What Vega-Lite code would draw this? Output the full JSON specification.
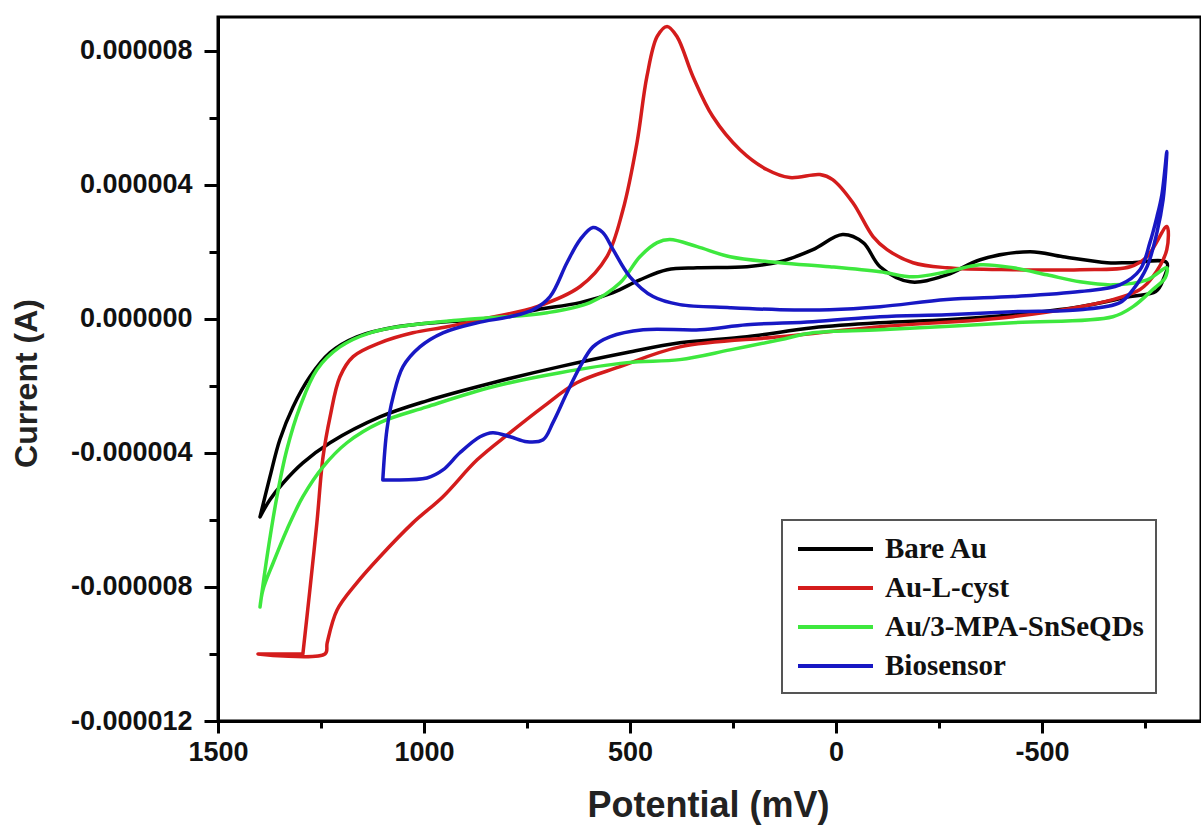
{
  "$schema": "https://vega.github.io/schema/vega-lite/v6.json",
  "width": 983,
  "height": 704,
  "autosize": {"type": "none"},
  "padding": {"left": 218, "top": 17, "right": 0, "bottom": 111},
  "background": "white",
  "config": {
    "view": {"stroke": "black", "strokeWidth": 3},
    "legend": {"strokeWidth": 2}
  },
  "data": {
    "values": [
      {"series": "Bare Au", "i": 1, "potential": 1398, "current": -5.91e-6},
      {"series": "Bare Au", "i": 2, "potential": 1374, "current": -4.72e-6},
      {"series": "Bare Au", "i": 3, "potential": 1350, "current": -3.61e-6},
      {"series": "Bare Au", "i": 4, "potential": 1318, "current": -2.63e-6},
      {"series": "Bare Au", "i": 5, "potential": 1277, "current": -1.73e-6},
      {"series": "Bare Au", "i": 6, "potential": 1228, "current": -1.01e-6},
      {"series": "Bare Au", "i": 7, "potential": 1163, "current": -0.54e-6},
      {"series": "Bare Au", "i": 8, "potential": 1066, "current": -0.24e-6},
      {"series": "Bare Au", "i": 9, "potential": 944, "current": -0.09e-6},
      {"series": "Bare Au", "i": 10, "potential": 864, "current": -0.03e-6},
      {"series": "Bare Au", "i": 11, "potential": 726, "current": 0.27e-6},
      {"series": "Bare Au", "i": 12, "potential": 621, "current": 0.48e-6},
      {"series": "Bare Au", "i": 13, "potential": 541, "current": 0.78e-6},
      {"series": "Bare Au", "i": 14, "potential": 476, "current": 1.16e-6},
      {"series": "Bare Au", "i": 15, "potential": 410, "current": 1.46e-6},
      {"series": "Bare Au", "i": 16, "potential": 337, "current": 1.52e-6},
      {"series": "Bare Au", "i": 17, "potential": 216, "current": 1.55e-6},
      {"series": "Bare Au", "i": 18, "potential": 136, "current": 1.70e-6},
      {"series": "Bare Au", "i": 19, "potential": 56, "current": 2.06e-6},
      {"series": "Bare Au", "i": 20, "potential": -16, "current": 2.51e-6},
      {"series": "Bare Au", "i": 21, "potential": -66, "current": 2.27e-6},
      {"series": "Bare Au", "i": 22, "potential": -107, "current": 1.55e-6},
      {"series": "Bare Au", "i": 23, "potential": -180, "current": 1.10e-6},
      {"series": "Bare Au", "i": 24, "potential": -269, "current": 1.31e-6},
      {"series": "Bare Au", "i": 25, "potential": -350, "current": 1.76e-6},
      {"series": "Bare Au", "i": 26, "potential": -471, "current": 2.00e-6},
      {"series": "Bare Au", "i": 27, "potential": -551, "current": 1.85e-6},
      {"series": "Bare Au", "i": 28, "potential": -658, "current": 1.67e-6},
      {"series": "Bare Au", "i": 29, "potential": -714, "current": 1.67e-6},
      {"series": "Bare Au", "i": 30, "potential": -803, "current": 1.67e-6},
      {"series": "Bare Au", "i": 31, "potential": -794, "current": 1.16e-6},
      {"series": "Bare Au", "i": 32, "potential": -776, "current": 0.81e-6},
      {"series": "Bare Au", "i": 33, "potential": -714, "current": 0.66e-6},
      {"series": "Bare Au", "i": 34, "potential": -592, "current": 0.36e-6},
      {"series": "Bare Au", "i": 35, "potential": -430, "current": 0.12e-6},
      {"series": "Bare Au", "i": 36, "potential": -269, "current": -0.03e-6},
      {"series": "Bare Au", "i": 37, "potential": -107, "current": -0.12e-6},
      {"series": "Bare Au", "i": 38, "potential": 56, "current": -0.27e-6},
      {"series": "Bare Au", "i": 39, "potential": 216, "current": -0.54e-6},
      {"series": "Bare Au", "i": 40, "potential": 379, "current": -0.72e-6},
      {"series": "Bare Au", "i": 41, "potential": 507, "current": -1.01e-6},
      {"series": "Bare Au", "i": 42, "potential": 670, "current": -1.43e-6},
      {"series": "Bare Au", "i": 43, "potential": 833, "current": -1.91e-6},
      {"series": "Bare Au", "i": 44, "potential": 993, "current": -2.45e-6},
      {"series": "Bare Au", "i": 45, "potential": 1107, "current": -2.93e-6},
      {"series": "Bare Au", "i": 46, "potential": 1228, "current": -3.70e-6},
      {"series": "Bare Au", "i": 47, "potential": 1294, "current": -4.30e-6},
      {"series": "Bare Au", "i": 48, "potential": 1342, "current": -4.90e-6},
      {"series": "Bare Au", "i": 49, "potential": 1374, "current": -5.40e-6},
      {"series": "Bare Au", "i": 50, "potential": 1398, "current": -5.91e-6},

      {"series": "Au-L-cyst", "i": 1, "potential": 1294, "current": -10.0e-6},
      {"series": "Au-L-cyst", "i": 2, "potential": 1277, "current": -8.09e-6},
      {"series": "Au-L-cyst", "i": 3, "potential": 1260, "current": -6.09e-6},
      {"series": "Au-L-cyst", "i": 4, "potential": 1245, "current": -4.12e-6},
      {"series": "Au-L-cyst", "i": 5, "potential": 1228, "current": -2.93e-6},
      {"series": "Au-L-cyst", "i": 6, "potential": 1204, "current": -1.73e-6},
      {"series": "Au-L-cyst", "i": 7, "potential": 1172, "current": -1.13e-6},
      {"series": "Au-L-cyst", "i": 8, "potential": 1107, "current": -0.72e-6},
      {"series": "Au-L-cyst", "i": 9, "potential": 1027, "current": -0.42e-6},
      {"series": "Au-L-cyst", "i": 10, "potential": 944, "current": -0.24e-6},
      {"series": "Au-L-cyst", "i": 11, "potential": 864, "current": -0.03e-6},
      {"series": "Au-L-cyst", "i": 12, "potential": 726, "current": 0.36e-6},
      {"series": "Au-L-cyst", "i": 13, "potential": 621, "current": 0.96e-6},
      {"series": "Au-L-cyst", "i": 14, "potential": 556, "current": 1.85e-6},
      {"series": "Au-L-cyst", "i": 15, "potential": 517, "current": 3.25e-6},
      {"series": "Au-L-cyst", "i": 16, "potential": 483, "current": 5.25e-6},
      {"series": "Au-L-cyst", "i": 17, "potential": 459, "current": 7.22e-6},
      {"series": "Au-L-cyst", "i": 18, "potential": 434, "current": 8.42e-6},
      {"series": "Au-L-cyst", "i": 19, "potential": 410, "current": 8.72e-6},
      {"series": "Au-L-cyst", "i": 20, "potential": 386, "current": 8.42e-6},
      {"series": "Au-L-cyst", "i": 21, "potential": 347, "current": 7.22e-6},
      {"series": "Au-L-cyst", "i": 22, "potential": 299, "current": 6.03e-6},
      {"series": "Au-L-cyst", "i": 23, "potential": 233, "current": 5.04e-6},
      {"series": "Au-L-cyst", "i": 24, "potential": 168, "current": 4.45e-6},
      {"series": "Au-L-cyst", "i": 25, "potential": 112, "current": 4.21e-6},
      {"series": "Au-L-cyst", "i": 26, "potential": 39, "current": 4.30e-6},
      {"series": "Au-L-cyst", "i": 27, "potential": 8, "current": 4.15e-6},
      {"series": "Au-L-cyst", "i": 28, "potential": -41, "current": 3.46e-6},
      {"series": "Au-L-cyst", "i": 29, "potential": -90, "current": 2.45e-6},
      {"series": "Au-L-cyst", "i": 30, "potential": -124, "current": 2.06e-6},
      {"series": "Au-L-cyst", "i": 31, "potential": -187, "current": 1.67e-6},
      {"series": "Au-L-cyst", "i": 32, "potential": -269, "current": 1.52e-6},
      {"series": "Au-L-cyst", "i": 33, "potential": -430, "current": 1.46e-6},
      {"series": "Au-L-cyst", "i": 34, "potential": -592, "current": 1.46e-6},
      {"series": "Au-L-cyst", "i": 35, "potential": -714, "current": 1.55e-6},
      {"series": "Au-L-cyst", "i": 36, "potential": -755, "current": 1.85e-6},
      {"series": "Au-L-cyst", "i": 37, "potential": -803, "current": 2.75e-6},
      {"series": "Au-L-cyst", "i": 38, "potential": -803, "current": 2.06e-6},
      {"series": "Au-L-cyst", "i": 39, "potential": -769, "current": 1.25e-6},
      {"series": "Au-L-cyst", "i": 40, "potential": -738, "current": 0.87e-6},
      {"series": "Au-L-cyst", "i": 41, "potential": -672, "current": 0.57e-6},
      {"series": "Au-L-cyst", "i": 42, "potential": -430, "current": 0.06e-6},
      {"series": "Au-L-cyst", "i": 43, "potential": -107, "current": -0.24e-6},
      {"series": "Au-L-cyst", "i": 44, "potential": 136, "current": -0.54e-6},
      {"series": "Au-L-cyst", "i": 45, "potential": 379, "current": -0.84e-6},
      {"series": "Au-L-cyst", "i": 46, "potential": 524, "current": -1.43e-6},
      {"series": "Au-L-cyst", "i": 47, "potential": 629, "current": -1.91e-6},
      {"series": "Au-L-cyst", "i": 48, "potential": 711, "current": -2.63e-6},
      {"series": "Au-L-cyst", "i": 49, "potential": 791, "current": -3.40e-6},
      {"series": "Au-L-cyst", "i": 50, "potential": 871, "current": -4.21e-6},
      {"series": "Au-L-cyst", "i": 51, "potential": 954, "current": -5.31e-6},
      {"series": "Au-L-cyst", "i": 52, "potential": 1027, "current": -6.09e-6},
      {"series": "Au-L-cyst", "i": 53, "potential": 1107, "current": -7.10e-6},
      {"series": "Au-L-cyst", "i": 54, "potential": 1163, "current": -7.88e-6},
      {"series": "Au-L-cyst", "i": 55, "potential": 1211, "current": -8.69e-6},
      {"series": "Au-L-cyst", "i": 56, "potential": 1235, "current": -9.67e-6},
      {"series": "Au-L-cyst", "i": 57, "potential": 1240, "current": -10.0e-6},
      {"series": "Au-L-cyst", "i": 58, "potential": 1403, "current": -10.0e-6},
      {"series": "Au-L-cyst", "i": 59, "potential": 1294, "current": -10.0e-6},

      {"series": "Au/3-MPA-SnSeQDs", "i": 1, "potential": 1398, "current": -8.60e-6},
      {"series": "Au/3-MPA-SnSeQDs", "i": 2, "potential": 1381, "current": -7.10e-6},
      {"series": "Au/3-MPA-SnSeQDs", "i": 3, "potential": 1357, "current": -5.31e-6},
      {"series": "Au/3-MPA-SnSeQDs", "i": 4, "potential": 1333, "current": -3.91e-6},
      {"series": "Au/3-MPA-SnSeQDs", "i": 5, "potential": 1301, "current": -2.63e-6},
      {"series": "Au/3-MPA-SnSeQDs", "i": 6, "potential": 1260, "current": -1.52e-6},
      {"series": "Au/3-MPA-SnSeQDs", "i": 7, "potential": 1204, "current": -0.84e-6},
      {"series": "Au/3-MPA-SnSeQDs", "i": 8, "potential": 1131, "current": -0.42e-6},
      {"series": "Au/3-MPA-SnSeQDs", "i": 9, "potential": 1027, "current": -0.18e-6},
      {"series": "Au/3-MPA-SnSeQDs", "i": 10, "potential": 905, "current": -0.03e-6},
      {"series": "Au/3-MPA-SnSeQDs", "i": 11, "potential": 701, "current": 0.18e-6},
      {"series": "Au/3-MPA-SnSeQDs", "i": 12, "potential": 597, "current": 0.48e-6},
      {"series": "Au/3-MPA-SnSeQDs", "i": 13, "potential": 524, "current": 1.07e-6},
      {"series": "Au/3-MPA-SnSeQDs", "i": 14, "potential": 476, "current": 1.85e-6},
      {"series": "Au/3-MPA-SnSeQDs", "i": 15, "potential": 434, "current": 2.27e-6},
      {"series": "Au/3-MPA-SnSeQDs", "i": 16, "potential": 403, "current": 2.36e-6},
      {"series": "Au/3-MPA-SnSeQDs", "i": 17, "potential": 337, "current": 2.15e-6},
      {"series": "Au/3-MPA-SnSeQDs", "i": 18, "potential": 257, "current": 1.85e-6},
      {"series": "Au/3-MPA-SnSeQDs", "i": 19, "potential": 136, "current": 1.67e-6},
      {"series": "Au/3-MPA-SnSeQDs", "i": 20, "potential": 15, "current": 1.55e-6},
      {"series": "Au/3-MPA-SnSeQDs", "i": 21, "potential": -107, "current": 1.40e-6},
      {"series": "Au/3-MPA-SnSeQDs", "i": 22, "potential": -187, "current": 1.25e-6},
      {"series": "Au/3-MPA-SnSeQDs", "i": 23, "potential": -269, "current": 1.40e-6},
      {"series": "Au/3-MPA-SnSeQDs", "i": 24, "potential": -350, "current": 1.61e-6},
      {"series": "Au/3-MPA-SnSeQDs", "i": 25, "potential": -430, "current": 1.52e-6},
      {"series": "Au/3-MPA-SnSeQDs", "i": 26, "potential": -512, "current": 1.31e-6},
      {"series": "Au/3-MPA-SnSeQDs", "i": 27, "potential": -592, "current": 1.10e-6},
      {"series": "Au/3-MPA-SnSeQDs", "i": 28, "potential": -672, "current": 1.01e-6},
      {"series": "Au/3-MPA-SnSeQDs", "i": 29, "potential": -755, "current": 1.16e-6},
      {"series": "Au/3-MPA-SnSeQDs", "i": 30, "potential": -803, "current": 1.52e-6},
      {"series": "Au/3-MPA-SnSeQDs", "i": 31, "potential": -799, "current": 1.22e-6},
      {"series": "Au/3-MPA-SnSeQDs", "i": 32, "potential": -769, "current": 0.87e-6},
      {"series": "Au/3-MPA-SnSeQDs", "i": 33, "potential": -721, "current": 0.36e-6},
      {"series": "Au/3-MPA-SnSeQDs", "i": 34, "potential": -672, "current": 0.06e-6},
      {"series": "Au/3-MPA-SnSeQDs", "i": 35, "potential": -430, "current": -0.12e-6},
      {"series": "Au/3-MPA-SnSeQDs", "i": 36, "potential": -107, "current": -0.33e-6},
      {"series": "Au/3-MPA-SnSeQDs", "i": 37, "potential": 56, "current": -0.42e-6},
      {"series": "Au/3-MPA-SnSeQDs", "i": 38, "potential": 136, "current": -0.63e-6},
      {"series": "Au/3-MPA-SnSeQDs", "i": 39, "potential": 257, "current": -0.93e-6},
      {"series": "Au/3-MPA-SnSeQDs", "i": 40, "potential": 379, "current": -1.22e-6},
      {"series": "Au/3-MPA-SnSeQDs", "i": 41, "potential": 507, "current": -1.31e-6},
      {"series": "Au/3-MPA-SnSeQDs", "i": 42, "potential": 670, "current": -1.61e-6},
      {"series": "Au/3-MPA-SnSeQDs", "i": 43, "potential": 833, "current": -2.03e-6},
      {"series": "Au/3-MPA-SnSeQDs", "i": 44, "potential": 993, "current": -2.63e-6},
      {"series": "Au/3-MPA-SnSeQDs", "i": 45, "potential": 1107, "current": -3.10e-6},
      {"series": "Au/3-MPA-SnSeQDs", "i": 46, "potential": 1187, "current": -3.70e-6},
      {"series": "Au/3-MPA-SnSeQDs", "i": 47, "potential": 1245, "current": -4.42e-6},
      {"series": "Au/3-MPA-SnSeQDs", "i": 48, "potential": 1294, "current": -5.31e-6},
      {"series": "Au/3-MPA-SnSeQDs", "i": 49, "potential": 1333, "current": -6.30e-6},
      {"series": "Au/3-MPA-SnSeQDs", "i": 50, "potential": 1366, "current": -7.28e-6},
      {"series": "Au/3-MPA-SnSeQDs", "i": 51, "potential": 1391, "current": -8.09e-6},
      {"series": "Au/3-MPA-SnSeQDs", "i": 52, "potential": 1398, "current": -8.60e-6},

      {"series": "Biosensor", "i": 1, "potential": 1100, "current": -4.81e-6},
      {"series": "Biosensor", "i": 2, "potential": 1090, "current": -3.31e-6},
      {"series": "Biosensor", "i": 3, "potential": 1075, "current": -2.33e-6},
      {"series": "Biosensor", "i": 4, "potential": 1051, "current": -1.43e-6},
      {"series": "Biosensor", "i": 5, "potential": 1010, "current": -0.84e-6},
      {"series": "Biosensor", "i": 6, "potential": 954, "current": -0.42e-6},
      {"series": "Biosensor", "i": 7, "potential": 871, "current": -0.12e-6},
      {"series": "Biosensor", "i": 8, "potential": 791, "current": 0.06e-6},
      {"series": "Biosensor", "i": 9, "potential": 735, "current": 0.27e-6},
      {"series": "Biosensor", "i": 10, "potential": 694, "current": 0.66e-6},
      {"series": "Biosensor", "i": 11, "potential": 653, "current": 1.67e-6},
      {"series": "Biosensor", "i": 12, "potential": 621, "current": 2.36e-6},
      {"series": "Biosensor", "i": 13, "potential": 590, "current": 2.72e-6},
      {"series": "Biosensor", "i": 14, "potential": 566, "current": 2.57e-6},
      {"series": "Biosensor", "i": 15, "potential": 541, "current": 2.06e-6},
      {"series": "Biosensor", "i": 16, "potential": 500, "current": 1.25e-6},
      {"series": "Biosensor", "i": 17, "potential": 444, "current": 0.66e-6},
      {"series": "Biosensor", "i": 18, "potential": 379, "current": 0.42e-6},
      {"series": "Biosensor", "i": 19, "potential": 257, "current": 0.33e-6},
      {"series": "Biosensor", "i": 20, "potential": 136, "current": 0.27e-6},
      {"series": "Biosensor", "i": 21, "potential": 15, "current": 0.27e-6},
      {"series": "Biosensor", "i": 22, "potential": -107, "current": 0.36e-6},
      {"series": "Biosensor", "i": 23, "potential": -269, "current": 0.57e-6},
      {"series": "Biosensor", "i": 24, "potential": -430, "current": 0.66e-6},
      {"series": "Biosensor", "i": 25, "potential": -592, "current": 0.81e-6},
      {"series": "Biosensor", "i": 26, "potential": -689, "current": 1.01e-6},
      {"series": "Biosensor", "i": 27, "potential": -738, "current": 1.46e-6},
      {"series": "Biosensor", "i": 28, "potential": -762, "current": 2.27e-6},
      {"series": "Biosensor", "i": 29, "potential": -779, "current": 3.04e-6},
      {"series": "Biosensor", "i": 30, "potential": -791, "current": 3.70e-6},
      {"series": "Biosensor", "i": 31, "potential": -803, "current": 4.99e-6},
      {"series": "Biosensor", "i": 32, "potential": -794, "current": 3.55e-6},
      {"series": "Biosensor", "i": 33, "potential": -779, "current": 2.57e-6},
      {"series": "Biosensor", "i": 34, "potential": -755, "current": 1.55e-6},
      {"series": "Biosensor", "i": 35, "potential": -721, "current": 0.87e-6},
      {"series": "Biosensor", "i": 36, "potential": -689, "current": 0.48e-6},
      {"series": "Biosensor", "i": 37, "potential": -592, "current": 0.27e-6},
      {"series": "Biosensor", "i": 38, "potential": -430, "current": 0.21e-6},
      {"series": "Biosensor", "i": 39, "potential": -269, "current": 0.12e-6},
      {"series": "Biosensor", "i": 40, "potential": -107, "current": 0.06e-6},
      {"series": "Biosensor", "i": 41, "potential": 56, "current": -0.09e-6},
      {"series": "Biosensor", "i": 42, "potential": 216, "current": -0.18e-6},
      {"series": "Biosensor", "i": 43, "potential": 330, "current": -0.33e-6},
      {"series": "Biosensor", "i": 44, "potential": 468, "current": -0.33e-6},
      {"series": "Biosensor", "i": 45, "potential": 549, "current": -0.54e-6},
      {"series": "Biosensor", "i": 46, "potential": 590, "current": -0.84e-6},
      {"series": "Biosensor", "i": 47, "potential": 621, "current": -1.43e-6},
      {"series": "Biosensor", "i": 48, "potential": 653, "current": -2.21e-6},
      {"series": "Biosensor", "i": 49, "potential": 687, "current": -3.10e-6},
      {"series": "Biosensor", "i": 50, "potential": 711, "current": -3.61e-6},
      {"series": "Biosensor", "i": 51, "potential": 750, "current": -3.67e-6},
      {"series": "Biosensor", "i": 52, "potential": 791, "current": -3.52e-6},
      {"series": "Biosensor", "i": 53, "potential": 833, "current": -3.40e-6},
      {"series": "Biosensor", "i": 54, "potential": 864, "current": -3.52e-6},
      {"series": "Biosensor", "i": 55, "potential": 913, "current": -4.00e-6},
      {"series": "Biosensor", "i": 56, "potential": 954, "current": -4.51e-6},
      {"series": "Biosensor", "i": 57, "potential": 993, "current": -4.75e-6},
      {"series": "Biosensor", "i": 58, "potential": 1075, "current": -4.81e-6},
      {"series": "Biosensor", "i": 59, "potential": 1100, "current": -4.81e-6}
    ]
  },
  "mark": {"type": "line", "interpolate": "catmull-rom", "strokeWidth": 3.5, "strokeCap": "round", "strokeJoin": "round"},
  "encoding": {
    "x": {
      "field": "potential",
      "type": "quantitative",
      "scale": {"domain": [-886, 1500], "reverse": true, "nice": false, "zero": false},
      "axis": {
        "title": "Potential (mV)",
        "values": [1500, 1250, 1000, 750, 500, 250, 0, -250, -500, -750],
        "labelExpr": "datum.value % 500 == 0 ? '' + datum.value : ''",
        "labelOverlap": false,
        "labelFlush": false,
        "grid": false,
        "domainColor": "black",
        "domainWidth": 3,
        "tickColor": "black",
        "tickWidth": 3,
        "tickSize": {"condition": {"test": "datum.value % 500 == 0", "value": 12}, "value": 7},
        "labelPadding": 6,
        "labelFont": "Liberation Sans",
        "labelFontWeight": "bold",
        "labelFontSize": 27,
        "labelColor": "#111111",
        "titleFont": "Liberation Sans",
        "titleFontWeight": "bold",
        "titleFontSize": 36,
        "titleColor": "#222222",
        "titleX": 490,
        "titleY": 95,
        "titleBaseline": "alphabetic",
        "titleAlign": "center"
      }
    },
    "y": {
      "field": "current",
      "type": "quantitative",
      "scale": {"domain": [-12e-6, 9e-6], "nice": false, "zero": false},
      "axis": {
        "title": "Current (A)",
        "values": [-12e-6, -10e-6, -8e-6, -6e-6, -4e-6, -2e-6, 0, 2e-6, 4e-6, 6e-6, 8e-6],
        "labelExpr": "round(datum.value * 1e6) % 4 == 0 ? replace(format(datum.value, '.6f'), '\u2212', '-') : ''",
        "labelOverlap": false,
        "labelFlush": false,
        "grid": false,
        "domainColor": "black",
        "domainWidth": 3,
        "tickColor": "black",
        "tickWidth": 3,
        "tickSize": {"condition": {"test": "round(datum.value * 1e6) % 4 == 0", "value": 14}, "value": 9},
        "labelPadding": 12,
        "labelFont": "Liberation Sans",
        "labelFontWeight": "bold",
        "labelFontSize": 27,
        "labelColor": "#111111",
        "titleFont": "Liberation Sans",
        "titleFontWeight": "bold",
        "titleFontSize": 32,
        "titleColor": "#222222",
        "titleX": -182,
        "titleY": 366,
        "titleBaseline": "alphabetic",
        "titleAlign": "center",
        "titleAngle": -90
      }
    },
    "color": {
      "field": "series",
      "type": "nominal",
      "scale": {
        "domain": ["Bare Au", "Au-L-cyst", "Au/3-MPA-SnSeQDs", "Biosensor"],
        "range": ["#000000", "#d41c1c", "#3ee83e", "#1818c4"]
      },
      "legend": {
        "title": null,
        "orient": "none",
        "legendX": 564,
        "legendY": 503,
        "symbolType": "M-2.5,0L2.5,0",
        "symbolSize": 900,
        "symbolStrokeWidth": 4,
        "symbolOffset": 24.5,
        "labelFont": "Liberation Serif",
        "labelFontWeight": "bold",
        "labelFontSize": 29,
        "labelColor": "#111111",
        "labelOffset": 32.5,
        "labelLimit": 400,
        "strokeColor": "#555555",
        "fillColor": "white",
        "padding": 12,
        "rowPadding": 7
      }
    },
    "order": {"field": "i", "type": "quantitative"}
  }
}
